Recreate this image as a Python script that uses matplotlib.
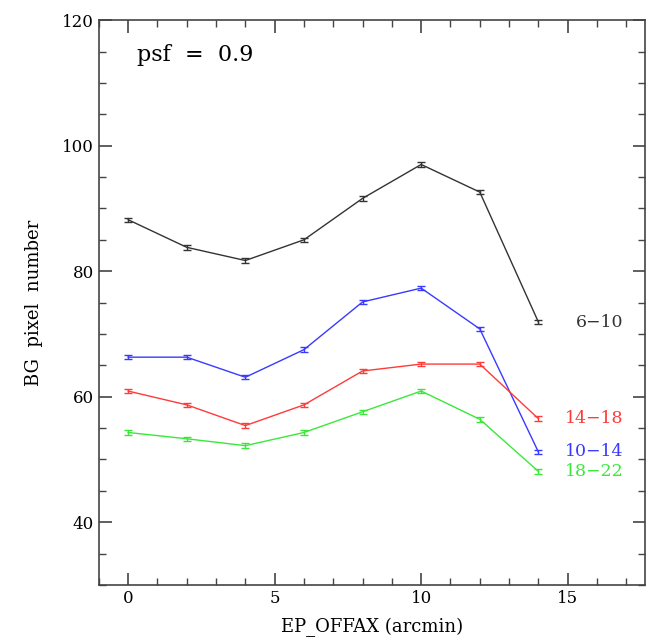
import matplotlib
matplotlib.use("Agg")
from matplotlib import pyplot as plt
from matplotlib.ticker import MultipleLocator

# off-axis angle (arcmin)
x = [0, 2, 4, 6, 8, 10, 12, 14]
# BG pixel number per energy band
y_6_10 = [88.2, 83.8, 81.7, 85.0, 91.6, 97.0, 92.6, 71.9]
y_10_14 = [66.3, 66.3, 63.1, 67.5, 75.1, 77.3, 70.8, 51.2]
y_14_18 = [60.9, 58.7, 55.4, 58.7, 64.1, 65.2, 65.2, 56.5]
y_18_22 = [54.3, 53.3, 52.2, 54.3, 57.6, 60.9, 56.4, 48.1]
err = [0.35, 0.35, 0.35, 0.35, 0.35, 0.35, 0.35, 0.35]

bands = ["6\u221210", "10\u221214", "14\u221218", "18\u221222"]
series = [y_6_10, y_10_14, y_14_18, y_18_22]
colors = ["#333333", "#3a3aff", "#ff3a3a", "#3ae83a"]

plt.rcParams['font.family'] = ['DejaVu Serif']

fig = plt.figure(figsize=(6.46, 6.39), dpi=100)
ax = fig.add_axes([0.153, 0.0845, 0.846, 0.884])

for ys, c in zip(series, colors):
    ax.errorbar(x, ys, yerr=err, color=c, lw=1.0, capsize=3, elinewidth=1.0, capthick=1.0)

# band labels at the right end, right-aligned
for ys, lab, c in zip(series, bands, colors):
    ax.text(16.9, ys[-1], lab, color=c, fontsize=12.5, va="center", ha="right")

ax.text(0.3, 114.5, "psf  =  0.9", fontsize=16, va="center", ha="left")

ax.set_xlim(-1, 17.65)
ax.set_ylim(30, 120)
ax.xaxis.set_major_locator(MultipleLocator(5))
ax.xaxis.set_minor_locator(MultipleLocator(1))
ax.yaxis.set_minor_locator(MultipleLocator(5))
ax.set_yticks([40, 60, 80, 100, 120])
ax.tick_params(which="both", direction="in", top=True, right=True, labelsize=12, color="#444444")
ax.tick_params(which="major", length=9, width=1.2)
ax.tick_params(which="minor", length=5, width=1.0)
for s in ax.spines.values():
    s.set_color("#444444")
    s.set_linewidth(1.2)

ax.set_xlabel("EP_OFFAX (arcmin)", fontsize=13, labelpad=8)
ax.set_ylabel("BG  pixel  number", fontsize=13, labelpad=14)

plt.savefig("out.png", dpi=100)
